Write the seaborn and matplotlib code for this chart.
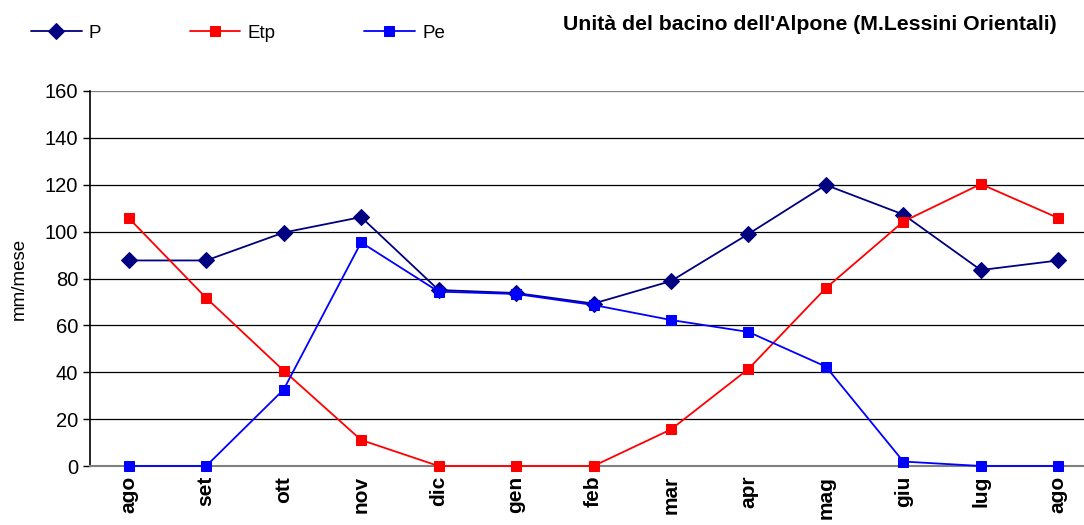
import numpy as np
import pandas as pd
import matplotlib
matplotlib.use('Agg')
import matplotlib.pyplot as plt
import seaborn as sns

# months (hydrological year, ago -> ago)
mesi = ['ago', 'set', 'ott', 'nov', 'dic', 'gen', 'feb', 'mar', 'apr', 'mag', 'giu', 'lug', 'ago']
P = [87.7, 87.7, 99.6, 106.2, 75.1, 73.8, 69.3, 78.9, 99.0, 119.9, 107.3, 83.6, 87.7]
Etp = [105.8, 71.7, 40.7, 11.1, 0, 0, 0, 15.6, 41.4, 75.9, 104.3, 120.3, 105.8]
Pe = [0, 0, 32.6, 95.4, 74.4, 73.4, 68.7, 62.3, 57.2, 42.4, 1.9, 0, 0]

sns.set_style('white')
plt.rcParams['font.family'] = ['Liberation Sans', 'DejaVu Sans']
plt.rcParams['text.color'] = 'black'
plt.rcParams['axes.labelcolor'] = 'black'
plt.rcParams['xtick.color'] = 'black'
plt.rcParams['ytick.color'] = 'black'

fig = plt.figure(figsize=(10.84, 5.25), dpi=100)
ax = fig.add_axes([90/1084, 59/525, 1007/1084, 375/525])

pos = np.arange(len(mesi))
df = pd.DataFrame({'pos': pos, 'P': P, 'Etp': Etp, 'Pe': Pe})

# gridlines first so lines stay on top
for v in range(20, 161, 20):
    ax.axhline(v, color='black' if v < 160 else '#808080', lw=0.9, zorder=1)

sns.lineplot(data=df, x='pos', y='P', ax=ax, color='#000080', marker='D', markersize=8,
             markeredgecolor='#000080', lw=1.3, label='P', zorder=3, clip_on=False)
sns.lineplot(data=df, x='pos', y='Etp', ax=ax, color='#FF0000', marker='s', markersize=7,
             markeredgecolor='#FF0000', lw=1.3, label='Etp', zorder=3, clip_on=False)
sns.lineplot(data=df, x='pos', y='Pe', ax=ax, color='#0000FF', marker='s', markersize=7,
             markeredgecolor='#0000FF', lw=1.3, label='Pe', zorder=4, clip_on=False)

ax.set_xlim(-0.5, len(mesi) - 0.5)
ax.set_ylim(0, 160)
ax.set_yticks(range(0, 161, 20))
ax.set_xticks(pos)
ax.set_xticklabels(mesi, rotation=90, fontweight='bold', fontsize=15)
ax.tick_params(axis='y', labelsize=14.5, length=5, width=1, direction='out', left=True, color='black')
ax.tick_params(axis='x', length=0, pad=7)
ax.set_xlabel('')
ax.set_ylabel('mm/mese', fontsize=13.5, labelpad=12)

for s in ['top', 'right']:
    ax.spines[s].set_visible(False)
ax.spines['left'].set_color('black')
ax.spines['left'].set_linewidth(1.2)
ax.spines['bottom'].set_color('#808080')
ax.spines['bottom'].set_linewidth(1.5)

handles, labels = ax.get_legend_handles_labels()
ax.get_legend().remove()
fig.legend(handles, labels, loc='center left', bbox_to_anchor=(14/1084, 1 - 33/525), ncol=3,
           frameon=False, fontsize=13.5, handlelength=2.7, columnspacing=4.7, handletextpad=0.4)

fig.text(1057/1084, 1 - 25/525, "Unità del bacino dell'Alpone (M.Lessini Orientali)",
         ha='right', va='center', fontsize=15.3, fontweight='bold')

fig.savefig('out.png', dpi=100)
